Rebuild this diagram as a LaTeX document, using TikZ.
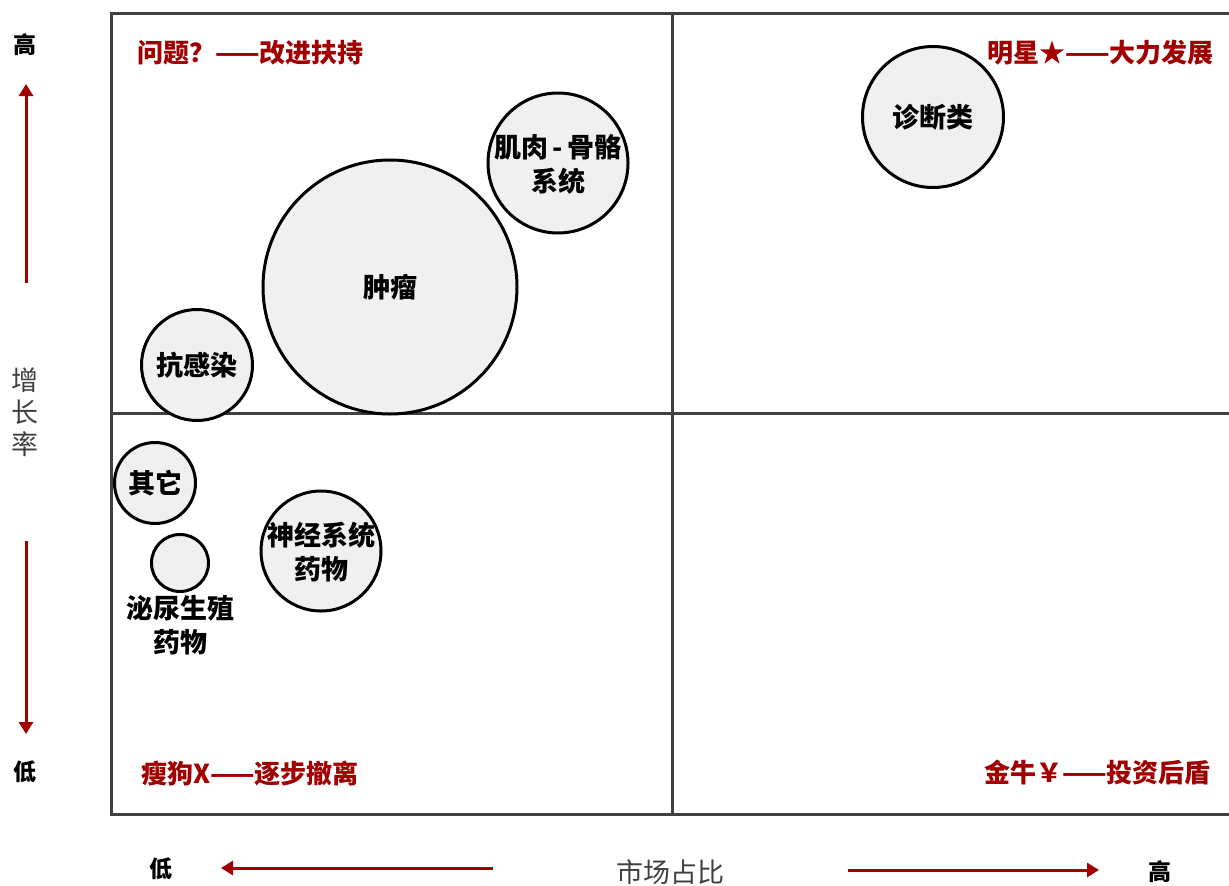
\documentclass[tikz,border=0pt]{standalone}
\usepackage{fontspec}
\usetikzlibrary{arrows.meta}
\newfontfamily\cjk{Noto Sans CJK SC}
\definecolor{quadred}{HTML}{A00000}
\definecolor{framegray}{HTML}{404040}
\definecolor{bubblefill}{HTML}{F0F0F0}
\tikzset{
  bubble/.style={circle, draw=black, line width=3pt, fill=bubblefill, inner sep=0pt, minimum size=#1},
  bubbletext/.style={font=\cjk\bfseries\fontsize{27}{34}\selectfont, align=center, inner sep=0pt},
  quadlabel/.style={font=\cjk\bfseries\fontsize{26}{30}\selectfont, text=quadred, inner sep=0pt},
  axisname/.style={font=\cjk\fontsize{27}{32}\selectfont, text=framegray, align=center, inner sep=0pt},
  axisend/.style={font=\cjk\bfseries\fontsize{23}{28}\selectfont, inner sep=0pt},
  axisarrow/.style={quadred, line width=3pt, -{Triangle[length=12pt,width=14pt]}},
}
\begin{document}
\begin{tikzpicture}[x=1pt, y=-1pt]
  \useasboundingbox (0,0) rectangle (1229,886);
  % quadrants
  \draw (111,13) rectangle (1245,814) [framegray, line width=3pt];
  \draw (672,13)--(672,814) [framegray, line width=3pt];
  \draw (111,413)--(1245,413) [framegray, line width=3pt];
  % quadrant names
  \node[quadlabel, anchor=west] (question) at (137,53) {问题？——改进扶持};
  \node[quadlabel, anchor=east] (star) at (1214,53) {明星★——大力发展};
  \node[quadlabel, anchor=west] (dog) at (141,773) {瘦狗X——逐步撤离};
  \node[quadlabel, anchor=east] (cow) at (1211,773) {金牛￥——投资后盾};
  % bubbles
  \node[bubble=141] (diag) at (933,117) {};
  \node[bubbletext] (diagtxt) at (diag) {诊断类};
  \node[bubble=140] (bone) at (558,163) {};
  \node[bubbletext] (bonetxt) at (558,164) {肌肉\,-\,骨骼\\系统};
  \node[bubble=254] (tumor) at (390,287) {};
  \node[bubbletext] (tumortxt) at (tumor) {肿瘤};
  \node[bubble=111] (infect) at (197,365) {};
  \node[bubbletext] (infecttxt) at (infect) {抗感染};
  \node[bubble=81] (other) at (155,483) {};
  \node[bubbletext] (othertxt) at (other) {其它};
  \node[bubble=120] (nerve) at (321,551) {};
  \node[bubbletext] (nervetxt) at (321,552) {神经系统\\药物};
  \node[bubble=57] (urine) at (180,563) {};
  \node[bubbletext, below=2pt] (urinetxt) at (urine.south) {泌尿生殖\\药物};
  % growth axis
  \node[axisend] (ghigh) at (25,45) {高};
  \node[axisend] (glow) at (25,772) {低};
  \node[axisname] (growth) at (25,412) {增\\长\\率};
  \coordinate (gup0) at (26,283);
  \coordinate (gup1) at (26,84);
  \coordinate (gdn0) at (26,541);
  \coordinate (gdn1) at (26,734);
  \draw[axisarrow] (gup0)--(gup1);
  \draw[axisarrow] (gdn0)--(gdn1);
  % share axis
  \node[axisend] (slow) at (161,869) {低};
  \node[axisend] (shigh) at (1160,872) {高};
  \node[axisname] (share) at (670,872) {市场占比};
  \coordinate (sl0) at (493,868);
  \coordinate (sl1) at (221,868);
  \coordinate (sr0) at (848,870);
  \coordinate (sr1) at (1099,870);
  \draw[axisarrow] (sl0)--(sl1);
  \draw[axisarrow] (sr0)--(sr1);
\end{tikzpicture}
\end{document}
